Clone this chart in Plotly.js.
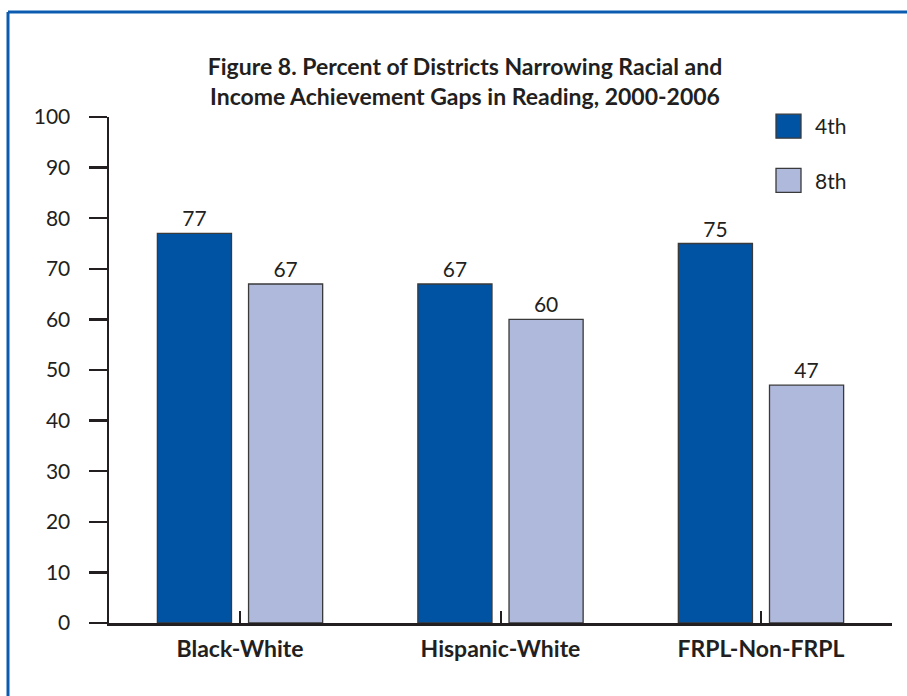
<!DOCTYPE html>
<html>
<head>
<meta charset="utf-8">
<script src="https://cdn.plot.ly/plotly-3.0.1.min.js"></script>
<style>html,body{margin:0;padding:0;background:#fff;}#chart{width:907px;height:696px;}</style>
</head>
<body>
<div id="chart"></div>
<script>
const categories = ["Black-White", "Hispanic-White", "FRPL-Non-FRPL"];
const seriesNames = ["4th", "8th"];
const values4th = [77, 67, 75];
const values8th = [67, 60, 47];
const yTicks = [0, 10, 20, 30, 40, 50, 60, 70, 80, 90, 100];

const ink = "#231f20";
const FONT = "Lato, 'Open Sans', sans-serif";

function barTrace(name, vals, color, group) {
  return {
    type: "bar",
    name: name,
    x: categories,
    y: vals,
    legendgroup: group,
    marker: {color: color, line: {color: "#3a3a3a", width: 1.3}},
    texttemplate: "%{y}",
    textposition: "outside",
    textfont: {family: FONT, size: 21, color: ink},
    cliponaxis: false,
    hoverinfo: "x+y+name"
  };
}

const data = [
  barTrace(seriesNames[0], values4th, "#0052a3", "a"),
  barTrace(seriesNames[1], values8th, "#afb9dc", "b")
];

const layout = {
  width: 907,
  height: 696,
  margin: {l: 109, r: 15, t: 117, b: 73},
  paper_bgcolor: "#ffffff",
  plot_bgcolor: "#ffffff",
  font: {family: FONT, color: ink},
  title: {
    text: "Figure 8. Percent of Districts Narrowing Racial and<br>Income Achievement Gaps in Reading, 2000-2006",
    font: {family: FONT, size: 23, weight: "bold", color: ink},
    x: 465 / 907,
    xanchor: "center",
    xref: "container",
    y: 1 - 75 / 696,
    yanchor: "top",
    yref: "container",
    pad: {t: 0, b: 0}
  },
  barmode: "group",
  bargap: 0.30,
  bargroupgap: 0.187,
  xaxis: {
    type: "category",
    showline: true,
    linecolor: ink,
    linewidth: 2.5,
    ticks: "inside",
    ticklen: 12,
    tickwidth: 2,
    tickcolor: ink,
    tickfont: {family: FONT, size: 23, weight: "bold", color: ink},
    ticklabelstandoff: 4,
    showgrid: false,
    zeroline: false,
    range: [-0.503, 2.503],
    fixedrange: true
  },
  yaxis: {
    range: [0, 100],
    tickmode: "array",
    tickvals: yTicks,
    ticktext: yTicks.map(String),
    showline: true,
    linecolor: ink,
    linewidth: 2.5,
    ticks: "outside",
    ticklen: 18,
    tickwidth: 2.5,
    tickcolor: ink,
    tickfont: {family: FONT, size: 21, color: ink},
    ticklabelstandoff: 14,
    showgrid: false,
    zeroline: false,
    fixedrange: true
  },
  showlegend: true,
  legend: {
    x: (775 - 109) / 783,
    xanchor: "left",
    y: (623 - 106) / 506,
    yanchor: "top",
    traceorder: "grouped",
    tracegroupgap: 24,
    font: {family: FONT, size: 21, color: ink},
    bgcolor: "rgba(0,0,0,0)"
  },
  shapes: [
    {type: "line", xref: "paper", yref: "paper",
     x0: (8 - 109) / 783, x1: (907 - 109) / 783 + 0.01,
     y0: (623 - 12) / 506, y1: (623 - 12) / 506,
     line: {color: "#0b5cb0", width: 3}},
    {type: "line", xref: "paper", yref: "paper",
     x0: (8 - 109) / 783, x1: (8 - 109) / 783,
     y0: (623 - 12) / 506, y1: (623 - 700) / 506,
     line: {color: "#0b5cb0", width: 3}}
  ]
};

Plotly.newPlot("chart", data, layout, {displayModeBar: false, staticPlot: true}).then(function () {
  document.querySelectorAll("#chart .legendpoints path").forEach(function (p) {
    p.setAttribute("d", "M6,12H-19V-12H6Z");
  });
});
</script>
</body>
</html>
